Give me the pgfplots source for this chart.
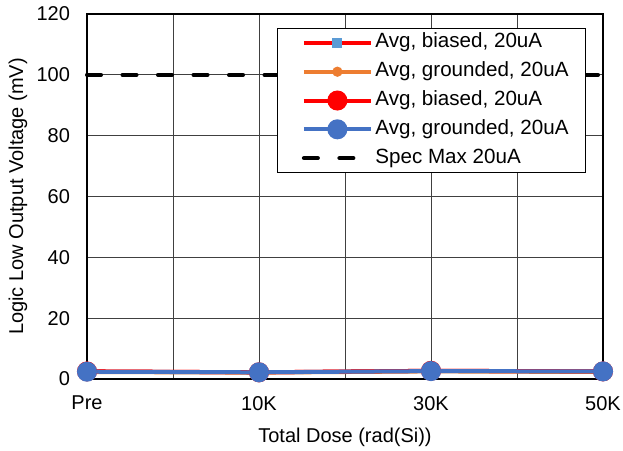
\documentclass[border=0pt]{standalone}
\usepackage{fontspec}
\setmainfont{Liberation Sans}
\usepackage{pgfplots}
\pgfplotsset{compat=1.18}
\definecolor{cred}{HTML}{FF0000}
\definecolor{corange}{HTML}{ED7D31}
\definecolor{cblue}{HTML}{4472C4}
\definecolor{clblue}{HTML}{5B9BD5}
\begin{document}
\begin{tikzpicture}
\begin{axis}[
  name=ax,
  scale only axis,
  width=258pt, height=182.5pt,
  xmin=0, xmax=3, ymin=0, ymax=120,
  xtick={0,1,2,3},
  xticklabels={Pre,10K,30K,50K},
  minor xtick={0.5,1.5,2.5},
  ytick={0,20,...,120},
  grid=both,
  major grid style={black!75, line width=0.5pt},
  minor grid style={black!75, line width=0.5pt},
  major tick length=0pt, minor tick length=0pt,
  axis line style={black, line width=0.6pt},
  clip=false,
  font=\fontsize{10}{12}\selectfont,
  /pgf/number format/assume math mode=true,
  yticklabel style={anchor=east, xshift=-5pt},
  xticklabel style={anchor=north, yshift=-5pt},
  xlabel={Total Dose (rad(Si))},
  xlabel style={at={(rel axis cs:0.5,0)}, anchor=center, yshift=-29pt},
  legend cell align=left,
  legend style={at={(rel axis cs:0.368,0.9616)}, anchor=north west,
    draw=black, line width=0.5pt, fill=white,
    font=\fontsize{10.3}{12}\selectfont,
    inner xsep=7pt, inner ysep=0pt,
    nodes={inner xsep=1.25pt, inner ysep=2.4pt, text height=7.3pt, text depth=2.3pt},
    row sep=0pt},
  legend image code/.code={\path (-5.25pt,0pt); \draw[#1, mark repeat=2, mark phase=2] plot coordinates {(0pt,0pt) (16.75pt,0pt) (33.5pt,0pt)};},
]
\addplot[cred, line width=2pt, mark=square*, mark size=1.5pt, mark options={clblue, solid}]
  coordinates {(0,2.5) (1,2.2) (2,2.7) (3,2.5)};
\addlegendentry{Avg, biased, 20uA}
\addplot[corange, line width=2pt, mark=*, mark size=1.5pt, mark options={corange, solid}]
  coordinates {(0,2.3) (1,2.1) (2,2.5) (3,2.3)};
\addlegendentry{Avg, grounded, 20uA}
\addplot[cred, line width=2pt, mark=*, mark size=4pt, mark options={cred, solid}]
  coordinates {(0,2.5) (1,2.2) (2,2.7) (3,2.5)};
\addlegendentry{Avg, biased, 20uA}
\addplot[cblue, line width=2pt, mark=*, mark size=4pt, mark options={cblue, solid}]
  coordinates {(0,2.4) (1,2.2) (2,2.6) (3,2.5)};
\addlegendentry{Avg, grounded, 20uA}
\addplot[black, line width=2pt, line cap=round, dash pattern=on 7pt off 10.75pt]
  coordinates {(0,100) (3,100)};
\addlegendentry{Spec Max 20uA}
\coordinate (SW) at (rel axis cs:0,0);
\coordinate (WM) at (rel axis cs:0,0.5);
\coordinate (NE) at (rel axis cs:1,1);
\end{axis}
\node[rotate=90, anchor=center, font=\fontsize{10}{12}\selectfont] at ([xshift=-34.5pt]WM) {Logic Low Output Voltage (mV)};
\pgfresetboundingbox
\path[use as bounding box] ([xshift=-43.5pt,yshift=-35.5pt]SW) rectangle ([xshift=10pt,yshift=7pt]NE);
\end{tikzpicture}
\end{document}
